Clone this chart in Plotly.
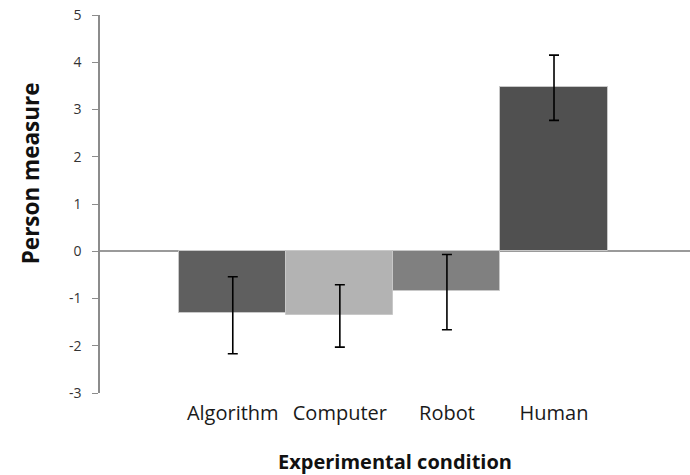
import plotly.graph_objects as go

categories = ["Algorithm", "Computer", "Robot", "Human"]
means = [-1.31, -1.34, -0.85, 3.47]
err_plus = [0.77, 0.63, 0.78, 0.68]
err_minus = [0.86, 0.69, 0.81, 0.70]
bar_colors = ["#5f5f5f", "#b3b3b3", "#808080", "#505050"]
y_ticks = [-3, -2, -1, 0, 1, 2, 3, 4, 5]
y_tick_labels = ["-3", "-2", "-1", "0", "1", "2", "3", "4", "5"]

xpos = list(range(len(categories)))

fig = go.Figure()
fig.add_trace(go.Bar(
    x=xpos, y=means, width=1.0,
    marker=dict(color=bar_colors, line=dict(color="#c8c8c8", width=1)),
    error_y=dict(type="data", symmetric=False, array=err_plus, arrayminus=err_minus,
                 color="black", thickness=1.6, width=5),
    showlegend=False,
))

fig.update_layout(
    width=690, height=475,
    margin=dict(l=100, r=0, t=15, b=82, autoexpand=False),
    plot_bgcolor="white", paper_bgcolor="white",
    font=dict(family="Open Sans, sans-serif", color="#222"),
    bargap=0,
)
fig.add_annotation(
    text="<b>Person measure</b>", textangle=-90,
    xref="paper", x=0, xshift=-70, xanchor="center",
    yref="y", y=1.65, yanchor="middle",
    showarrow=False, font=dict(size=22.5, color="#111"),
)
fig.update_xaxes(
    range=[-1.24, 4.27], tickvals=xpos, ticktext=categories,
    showline=False, showgrid=False, zeroline=False, ticks="",
    tickfont=dict(size=20, color="#1a1a1a"), ticklabelstandoff=6,
    title=dict(text="<b>Experimental condition</b>", font=dict(size=20, color="#111"), standoff=29),
)
fig.update_yaxes(
    range=[-3, 5], tickvals=y_ticks, ticktext=y_tick_labels, showgrid=False,
    showline=True, linecolor="#8c8c8c", linewidth=1.5,
    ticks="outside", ticklen=6, tickcolor="#8c8c8c", tickwidth=1.2,
    zeroline=True, zerolinecolor="#9a9a9a", zerolinewidth=1.5,
    tickfont=dict(size=14, color="#333"), ticklabelstandoff=8,
    ticklabeloverflow="allow",
)

fig.write_html("out.html", config={"displayModeBar": False},
               post_script="document.body.style.margin='0';")
